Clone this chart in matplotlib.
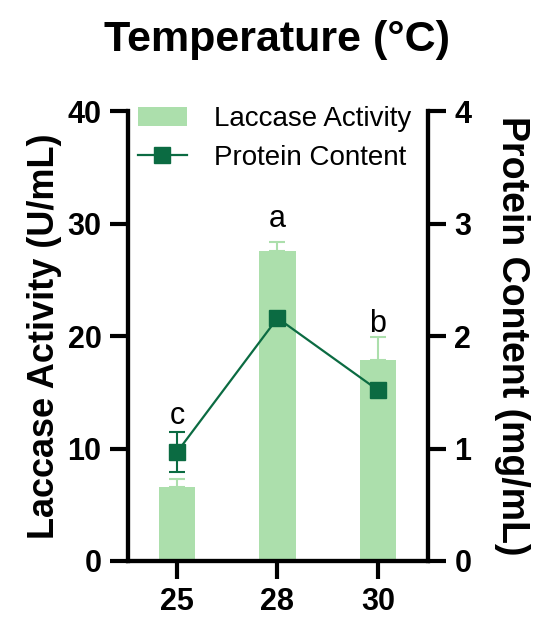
import numpy as np
import matplotlib.pyplot as plt

plt.rcParams['font.family'] = ['Liberation Sans', 'DejaVu Sans']

temps = ['25', '28', '30']
laccase = [6.6, 27.6, 17.9]
laccase_err = [0.7, 0.8, 2.0]
protein = [0.97, 2.16, 1.52]
protein_err = [0.18, 0.0, 0.0]
letters = ['c', 'a', 'b']
letter_y = [12.9, 30.4, 21.1]

bar_col = '#acdfac'
line_col = '#0b6b42'

fig = plt.figure(figsize=(5.34, 6.17), dpi=100)
ax = fig.add_axes([0.2397, 0.0908, 0.5618, 0.729])
x = np.arange(len(temps))

ax.bar(x, laccase, width=0.36, color=bar_col, label='Laccase Activity', zorder=1)
ax.errorbar(x, laccase, yerr=[np.zeros(3), laccase_err], fmt='none',
            ecolor=bar_col, elinewidth=1.5, capsize=6, capthick=1.5, zorder=1)
for xi, l, ly in zip(x, letters, letter_y):
    ax.text(xi, ly, l, ha='center', va='center', fontsize=22)

ax2 = ax.twinx()
ax2.errorbar(x, protein, yerr=protein_err, fmt='none', ecolor=line_col,
             elinewidth=1.5, capsize=6, capthick=1.5)
ax2.plot(x, protein, color=line_col, marker='s', markersize=11, lw=1.6,
         label='Protein Content')

ax.set_xlim(-0.49, 2.5)
ax.set_ylim(0, 40)
ax2.set_ylim(0, 4)
ax.set_yticks([0, 10, 20, 30, 40])
ax2.set_yticks([0, 1, 2, 3, 4])
ax.set_xticks(x)
ax.set_xticklabels(temps)

for a in (ax, ax2):
    for s in a.spines.values():
        s.set_linewidth(3)
    a.spines['top'].set_visible(False)
    a.tick_params(width=3, length=13, labelsize=22, pad=6)
    for lab in a.get_xticklabels() + a.get_yticklabels():
        lab.set_fontweight('bold')

ax.set_ylabel('Laccase Activity (U/mL)', fontsize=26, fontweight='bold', labelpad=4)
ax2.set_ylabel('Protein Content (mg/mL)', fontsize=27, fontweight='bold',
               rotation=270, labelpad=42)
fig.suptitle('Temperature (°C)', fontsize=31, fontweight='bold', x=0.519, y=0.967)

h1, l1 = ax.get_legend_handles_labels()
h2, l2 = ax2.get_legend_handles_labels()
ax.legend(h1 + h2, l1 + l2, loc='upper left', bbox_to_anchor=(-0.05, 1.067),
          frameon=False, fontsize=20, handlelength=1.75, handletextpad=1.0,
          labelspacing=0.45)

fig.savefig('out.png', dpi=100)
